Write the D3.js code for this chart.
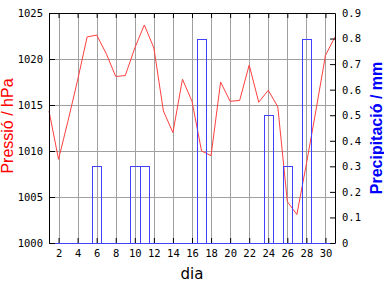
<!DOCTYPE html>
<html>
<head>
<meta charset="utf-8">
<script src="https://cdn.jsdelivr.net/npm/d3@7"></script>
<style>
  body { margin: 0; background: #fff; }
  svg { display: block; }
</style>
</head>
<body>
<div id="chart"></div>
<script>
const days = d3.range(1, 32);
const pressure = [1014.35, 1009.1, 1013.3, 1017.7, 1022.4, 1022.6, 1020.6, 1018.1, 1018.2, 1021.2,
  1023.7, 1021.2, 1014.35, 1012.0, 1017.8, 1015.4, 1010.0, 1009.5, 1017.5, 1015.4,
  1015.5, 1019.35, 1015.3, 1016.6, 1014.8, 1004.5, 1003.1, 1008.6, 1014.4, 1020.4, 1022.4];
const precip = [0, 0, 0, 0, 0, 0.3, 0, 0, 0, 0.3,
  0.3, 0, 0, 0, 0, 0, 0.8, 0, 0, 0,
  0, 0, 0, 0.5, 0, 0.3, 0, 0.8, 0, 0, 0];
const dayTicks = [2, 4, 6, 8, 10, 12, 14, 16, 18, 20, 22, 24, 26, 28, 30];
const pressTicks = [1000, 1005, 1010, 1015, 1020, 1025];
const rainTicks = [0, 0.1, 0.2, 0.3, 0.4, 0.5, 0.6, 0.7, 0.8, 0.9];

const width = 384, height = 288;
const margin = { top: 13, right: 49, bottom: 45, left: 49 };
const innerWidth = width - margin.left - margin.right;
const innerHeight = height - margin.top - margin.bottom;

const red = "#ff4040", blue = "#4040ff", grid = "#a0a0a0";
const mono = "'DejaVu Sans Mono', monospace";

const svg = d3.select("#chart").append("svg")
  .attr("width", width)
  .attr("height", height);

const g = svg.append("g")
  .attr("transform", `translate(${margin.left},${margin.top})`);

const x = d3.scaleLinear().domain([1, 31]).range([0, innerWidth]);
const yP = d3.scaleLinear().domain([1000, 1025]).range([innerHeight, 0]);
const yR = d3.scaleLinear().domain([0, 0.9]).range([innerHeight, 0]);

// grid
g.selectAll(".vgrid").data(dayTicks).enter().append("line")
  .attr("x1", d => Math.round(x(d)) + 0.5).attr("x2", d => Math.round(x(d)) + 0.5)
  .attr("y1", 0).attr("y2", innerHeight)
  .attr("stroke", grid);
g.selectAll(".hgrid").data(pressTicks.slice(1, -1)).enter().append("line")
  .attr("y1", d => Math.round(yP(d)) + 0.5).attr("y2", d => Math.round(yP(d)) + 0.5)
  .attr("x1", 0).attr("x2", innerWidth)
  .attr("stroke", grid);

// pressure line
g.append("path")
  .datum(days)
  .attr("fill", "none")
  .attr("stroke", red)
  .attr("stroke-width", 1)
  .attr("d", d3.line().x(d => x(d)).y((d, i) => yP(pressure[i])));

// precipitation bars
g.selectAll(".bar").data(days.filter((d, i) => precip[i] > 0)).enter().append("rect")
  .attr("x", d => Math.round(x(d - 0.5)) + 0.5)
  .attr("y", d => Math.round(yR(precip[d - 1])) + 0.5)
  .attr("width", d => Math.round(x(d + 0.5)) - Math.round(x(d - 0.5)))
  .attr("height", d => Math.round(innerHeight) - Math.round(yR(precip[d - 1])))
  .attr("fill", "none")
  .attr("stroke", blue);

function styleAxis(sel, color) {
  sel.select(".domain").attr("stroke", color);
  sel.selectAll(".tick line").attr("stroke", "#000");
  sel.selectAll("text")
    .attr("font-family", mono)
    .attr("font-size", 10.5)
    .attr("fill", "#000");
}

// axes
g.append("g")
  .call(d3.axisTop(x).tickValues(dayTicks).tickSize(-5).tickSizeOuter(0).tickFormat(""))
  .call(s => styleAxis(s, "#000"));

g.append("g")
  .attr("transform", `translate(0,${innerHeight})`)
  .call(d3.axisBottom(x).tickValues(dayTicks).tickSize(-5).tickSizeOuter(0).tickPadding(7))
  .call(s => styleAxis(s, blue));

g.append("g")
  .call(d3.axisLeft(yP).tickValues(pressTicks).tickSize(-6).tickSizeOuter(0).tickPadding(6).tickFormat(d3.format("d")))
  .call(s => styleAxis(s, "#000"));

g.append("g")
  .attr("transform", `translate(${innerWidth},0)`)
  .call(d3.axisRight(yR).tickValues(rainTicks).tickSize(-5).tickSizeOuter(0).tickPadding(7)
    .tickFormat(d => d === 0 ? "0" : d.toFixed(1)))
  .call(s => styleAxis(s, "#000"));

// titles
svg.append("text")
  .attr("transform", `translate(13,${margin.top + innerHeight / 2 - 2}) rotate(-90)`)
  .attr("text-anchor", "middle")
  .attr("font-family", "'Liberation Sans', Arial, sans-serif")
  .attr("font-size", 16)
  .attr("fill", "#ff0000")
  .text("Pressió / hPa");

svg.append("text")
  .attr("transform", `translate(382,${margin.top + innerHeight / 2}) rotate(-90)`)
  .attr("text-anchor", "middle")
  .attr("font-family", "'Liberation Sans', Arial, sans-serif")
  .attr("font-weight", "bold")
  .attr("font-size", 16)
  .attr("fill", "#0000ff")
  .text("Precipitació / mm");

svg.append("text")
  .attr("x", margin.left + innerWidth / 2)
  .attr("y", 279)
  .attr("text-anchor", "middle")
  .attr("font-family", "'DejaVu Sans', sans-serif")
  .attr("font-size", 15)
  .attr("fill", "#000")
  .text("dia");
</script>
</body>
</html>
